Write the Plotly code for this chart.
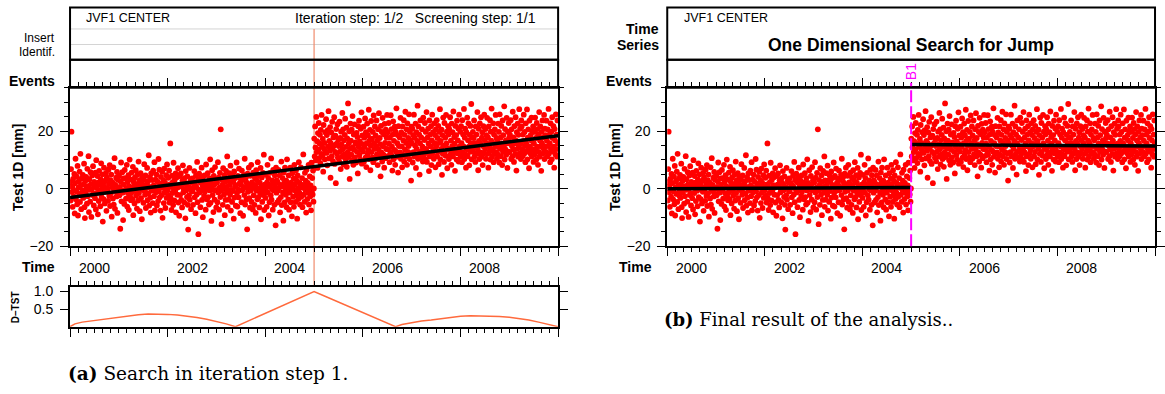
import numpy as np
import plotly.graph_objects as go

W, H = 1165, 394


def px(x):
    return x / W


def py(y):
    return 1 - y / H


# ---------------- data ----------------
STATION = "JVF1 CENTER"
T_START, T_JUMP, T_END = 2000.0, 2005.0, 2010.0

# observations before the jump (mm)
Y_BEFORE = [
    2.3, -4.1, 6.8, 19.8, -1.2, 0.7, -6.3, 3.4, -0.5, -2.8, 5.1, -8.6, 1.9, 10.4, -3.7, -0.9, 4.2, -5.4, 7.9, -9.3, 0.4, 2.6, -1.8, 5.9, -4.6, 12.1, 1.2, -7.1, 3.5, -2.4,
    -0.6, 4.8, -3.2, 1.5, 8.7, -6.4, -10.2, 2.7, -1.3, 4.1, 0.2, -5.2, 6.9, -2.6, 0.9, 11.3, -8.1, 3.3, -0.4, -4.5, 5.7, 1.6, -9.8, -0.2, 4.6, -2.2, 7.8, -1.7, -5.8, 2.4,
    0.8, -3.3, 5.6, -7.2, 9.9, 0.3, -1.5, 4.4, -8.9, 2.1, -4.3, 6.2, 1.4, -0.7, -6.1, 3.2, 8.8, -2.9, -0.1, 5.0, -11.4, 1.8, -3.6, 7.3, 0.6, -5.1, 2.8, -1.1, 5.5, -7.7,
    3.9, -0.8, 0.1, -4.2, 6.6, 1.7, -2.5, 8.2, -6.0, 3.0, -1.6, 4.9, -9.7, 0.5, 2.2, -3.4, 7.4, -5.5, -0.3, 10.6, -7.0, 1.3, -0.9, 3.8, -2.7, 5.8, -8.4, 3.1, 0.0, -1.9,
    4.5, -2.3, 0.6, -13.9, 2.5, 9.1, -4.4, -0.6, 5.7, -1.4, -10.9, 3.6, 1.5, -5.3, 6.5, -0.5, 3.7, -3.5, 0.2, 8.3, -6.2, 2.4, -1.6, 4.7, -7.4, 0.9, 10.1, -2.7, 3.2, -4.0,
    -1.4, 5.6, -0.2, -3.6, 7.6, -9.2, 2.3, 0.8, -5.1, 3.9, -0.8, 6.4, -2.4, 1.6, -6.9, 4.8, 0.4, -4.1, 9.4, -1.5, 2.9, -7.8, 0.7, 5.4, -3.3, 2.0, -10.6, 4.0, -0.4, 1.3,
    -4.9, 3.2, 8.5, -0.8, -2.1, 4.6, -6.7, 1.4, 0.3, 7.2, -4.0, 2.5, -1.6, 11.6, -5.9, 0.6, 3.9, -3.1, -8.3, 5.3, -0.2, -0.7, 3.0, -5.0, 6.3, 1.1, -2.6, 9.2, -7.5, 0.5,
    3.1, -1.2, 4.9, -5.8, 0.2, 2.4, -4.3, 10.3, -0.9, 6.6, -3.0, 1.7, -7.6, 4.1, 0.8, -2.2, 5.9, -10.1, 0.3, 3.0, -5.0, 7.0, -1.4, 2.1, -6.7, 0.6, 4.7, -3.2, 8.4, -0.6,
    0.1, 3.8, -2.4, 6.3, -4.8, 1.5, 15.7, -3.3, 0.7, -7.4, 4.5, -1.5, 2.3, -5.7, 9.0, -0.3, -4.1, 3.1, -0.8, 5.3, -8.2, 1.2, 4.0, -2.1, 0.4, 7.1, -4.8, 0.9, -9.4, 4.4,
    -2.2, 1.4, 5.3, -3.9, 0.8, -6.5, 2.9, 8.1, -1.3, -0.1, -4.7, 3.7, 2.1, -10.3, 6.1, -0.6, 1.5, -2.9, 4.3, -5.6, -14.2, 0.5, -2.3, 7.2, -3.8, 0.2, 2.8, -7.1, 2.2, -1.0,
    3.6, -0.7, -5.6, 2.0, 0.5, 6.1, -3.0, 1.2, -8.5, 4.5, 0.6, -2.0, 9.3, -4.7, 3.0, -15.8, -0.3, 5.2, -1.3, 2.2, -6.4, 3.8, -0.5, 7.3, -3.9, 1.3, -9.9, 2.9, 0.3, -2.5,
    4.6, -1.1, 0.4, -7.3, 8.4, 2.2, -3.7, 0.1, 5.4, -2.9, 1.3, -5.5, 3.7, -0.6, 10.2, -4.9, 2.0, -11.2, 0.7, 6.4, -2.2, -0.4, -8.1, 4.4, 1.4, -3.8, 7.5, -0.6, 2.8, -6.5,
    -0.5, 2.1, -4.7, 9.2, -1.3, 3.8, -7.3, 0.4, 5.5, -2.9, 20.6, -0.7, -12.3, 3.0, 1.2, -5.6, 7.1, 0.0, -2.1, 4.6, -9.2, 2.4, -3.9, 6.2, 0.6, -1.2, 11.2, -6.3, 2.9, -0.5,
    -3.8, 5.4, 1.3, -2.1, 8.0, -7.6, -0.4, 2.9, -4.6, 4.6, -0.8, 2.3, -10.4, 6.0, -3.1, 0.7, 3.7, -5.9, 1.2, 9.1, -1.5, -6.2, 4.4, -0.3, -3.0, 7.0, -0.7, 2.0, -8.5, 3.5,
    1.4, -4.7, 6.3, -0.5, 3.0, -9.4, 0.3, 4.8, -2.2, 10.4, -5.5, 0.6, 3.9, -3.8, 2.1, -14.1, 5.2, -1.1, -0.2, 7.3, -3.3, 1.4, -6.6, 4.5, -0.6, 8.3, -4.6, 2.2, 0.2, -7.2,
    5.6, -2.3, 0.8, -5.6, 3.8, 1.2, -8.4, 6.4, -0.7, 2.9, -3.7, 9.2, 0.1, -2.9, 4.7, -6.5, 2.1, -1.5, 7.2, -10.6, 0.6, 3.9, -4.6, -0.3, 5.5, -2.2, 11.8, -7.4, 1.4, -0.7,
    -3.2, 4.8, 0.3, -6.3, 2.2, 8.3, -1.4, 3.7, -9.3, 0.8, -4.7, 5.5, 1.3, -2.3, 10.5, -3.8, -0.1, 2.9, -7.3, 6.5, -0.6, 2.1, -5.6, 4.7, 0.6, -12.7, 7.3, -1.4, 2.9, -4.8,
    2.2, -0.6, 6.5, -3.9, 0.4, 4.6, -8.2, 1.3, -2.9, 9.4, -5.7, 0.8, 3.7, -1.3, -11.1, 5.6, 2.0, -4.8, 7.3, 0.3, -2.1, 2.8, -6.4, 10.2, -0.5, 1.5, -3.7, 4.6, -7.3, 0.7,
    -1.4, 7.3, -4.7, 2.1, -0.2, -9.6, 5.4, 0.6, -2.8, 3.5, -6.3, 8.3, 1.4, -0.6, -4.6, 6.4, -2.2, 2.8, -10.4, 4.6, 0.2, -3.6, 9.2, -1.3, 2.0, -5.5, 0.5, 7.4, -2.8, 1.3,
    3.7, -6.4, 0.4, 11.9, -2.1, 1.3, -4.6, 5.5, -0.4, 2.8, -8.3, 6.6, 0.6, -3.6, 2.0, -1.4, 8.3, -5.5, -0.3, 4.3, -2.7, 1.1, -7.5, 9.0, -0.6, 3.7, -2.0, 6.3, -4.5, 0.1,
]

# observations after the jump (mm)
Y_AFTER = [
    17.4, 11.2, 21.6, 14.3, 9.8, 24.9, 12.7, 16.5, 7.2, 19.3, 13.6, 22.8, 10.6, 15.8, 18.7, 8.9, 20.4, 12.1, 25.6, 14.6, 11.5, 17.3, 5.9, 22.1, 13.8, 15.9, 10.2, 19.6, 12.9, 24.1,
    12.4, 18.6, 8.1, 20.3, 14.7, 26.9, 10.5, 16.6, 13.2, 21.4, 3.8, 15.7, 19.5, 11.3, 23.2, 13.9, 9.6, 17.8, 14.9, 24.8, 8.6, 12.8, 18.4, 1.9, 20.7, 15.6, 12.2, 22.4, 10.8, 16.9,
    14.8, 9.5, 23.3, 12.9, 17.6, 6.8, 19.8, 15.4, 11.1, 26.3, 13.7, 20.6, 8.4, 16.8, 11.9, 18.7, 24.3, 10.3, 14.5, 21.2, 7.6, 17.5, 12.6, 29.6, 11.0, 15.8, 19.9, 3.4, 13.9, 22.6,
    16.7, 11.8, 20.5, 9.9, 25.2, 14.4, 8.3, 18.8, 13.5, 22.3, 10.9, 16.1, 15.7, 9.1, 19.4, 12.8, 17.9, 5.3, 21.7, 14.6, 23.6, 11.7, 16.4, 10.1, 20.8, 13.6, 26.5, 8.7, 18.5, 15.5,
    12.9, 21.5, 9.3, 17.7, 14.5, 24.4, 10.8, 19.6, 7.5, 15.8, 22.6, 11.9, 18.5, 13.4, 27.4, 10.3, 16.7, 20.4, 6.4, 14.9, 23.5, 12.7, 17.4, 10.9, 19.7, 9.2, 25.4, 15.7, 13.8, 21.6,
    10.4, 18.5, 14.8, 23.7, 11.9, 16.8, 8.2, 20.6, 13.7, 26.2, 11.2, 17.6, 15.5, 4.3, 21.8, 12.6, 19.7, 9.4, 24.6, 14.7, 11.8, 18.9, 7.3, 22.5, 15.9, 10.6, 20.5, 13.8, 17.7, 25.6,
    13.7, 19.6, 11.4, 22.8, 15.6, 9.2, 17.7, 12.8, 25.5, 11.8, 20.7, 14.6, 6.3, 18.8, 23.4, 10.2, 16.6, 13.5, 21.5, 8.3, 19.8, 12.9, 27.9, 11.1, 15.8, 18.6, 5.6, 21.7, 14.8, 12.3,
    17.8, 12.6, 24.6, 10.4, 19.5, 14.7, 7.4, 21.6, 11.8, 16.7, 23.8, 9.4, 18.7, 13.6, 26.7, 11.3, 15.9, 20.6, 8.3, 22.7, 12.8, 17.6, 14.8, 25.8, 10.3, 19.7, 12.3, 16.8, 2.8, 21.5,
    15.7, 20.8, 9.1, 18.6, 12.7, 25.7, 11.2, 17.7, 14.9, 22.6, 7.2, 19.6, 13.8, 16.6, 28.8, 10.4, 21.6, 12.1, 18.8, 4.9, 15.8, 23.7, 12.9, 17.8, 10.7, 20.6, 14.6, 9.4, 24.7, 13.7,
    11.8, 16.9, 22.8, 10.2, 19.7, 13.8, 26.6, 9.3, 17.7, 12.6, 20.8, 15.6, 6.1, 23.7, 11.2, 18.8, 14.7, 21.7, 8.2, 16.8, 25.7, 12.2, 19.6, 13.7, 10.4, 22.7, 15.8, 18.6, 7.4, 20.6,
    14.7, 23.8, 11.3, 17.6, 12.8, 21.8, 8.5, 19.7, 15.9, 27.6, 10.2, 16.6, 13.8, 20.5, 4.8, 18.6, 12.1, 24.7, 14.9, 9.3, 22.8, 12.8, 17.7, 11.4, 25.6, 15.7, 19.8, 7.1, 13.9, 21.7,
    18.8, 10.3, 20.7, 13.6, 24.8, 11.9, 16.7, 8.3, 22.6, 14.8, 19.6, 11.2, 26.8, 12.7, 17.9, 15.6, 6.2, 21.8, 13.7, 18.6, 10.1, 23.6, 12.3, 16.8, 20.9, 9.4, 25.7, 14.7, 12.9, 19.8,
    11.1, 21.7, 15.8, 9.2, 23.8, 12.6, 18.8, 14.7, 27.7, 10.3, 17.7, 20.8, 11.8, 7.3, 19.6, 13.7, 24.7, 11.3, 16.8, 22.7, 14.6, 8.1, 18.7, 12.8, 21.8, 15.8, 29.4, 10.2, 17.8, 13.6,
    19.7, 12.8, 17.6, 23.7, 11.2, 15.8, 9.3, 21.6, 14.7, 18.8, 12.2, 26.6, 13.9, 6.4, 20.8, 16.6, 10.3, 22.7, 15.7, 12.6, 24.8, 11.1, 17.7, 19.6, 8.2, 14.8, 21.7, 12.3, 25.7, 16.8,
    13.8, 20.7, 10.4, 18.6, 15.7, 24.6, 12.1, 17.8, 7.3, 21.6, 14.7, 12.9, 23.8, 10.1, 19.8, 16.7, 27.8, 11.2, 15.9, 13.7, 22.7, 9.2, 18.8, 12.2, 20.6, 14.8, 25.6, 12.7, 17.6, 10.4,
    16.8, 11.9, 22.6, 14.6, 19.7, 9.1, 25.8, 13.8, 17.7, 11.3, 21.8, 15.6, 8.2, 23.7, 12.8, 18.6, 14.7, 28.6, 10.1, 20.7, 13.6, 16.8, 11.8, 24.6, 15.7, 7.2, 19.8, 12.9, 22.8, 17.6,
    12.7, 18.8, 15.7, 23.8, 10.3, 20.6, 14.8, 11.2, 26.7, 13.7, 17.8, 9.3, 21.7, 15.8, 12.1, 24.8, 16.7, 6.3, 19.6, 13.8, 22.6, 11.1, 18.7, 14.9, 27.6, 12.2, 20.8, 15.6, 10.3, 23.7,
    21.6, 13.7, 11.3, 18.8, 16.6, 25.7, 12.1, 19.7, 14.8, 9.2, 22.7, 15.8, 12.9, 27.5, 10.2, 17.7, 20.6, 13.8, 7.1, 23.6, 14.7, 12.3, 18.6, 16.8, 24.7, 11.2, 19.8, 13.7, 21.6, 9.3,
    15.8, 19.7, 11.9, 24.7, 13.7, 17.6, 10.1, 22.8, 14.6, 20.7, 8.3, 18.8, 12.8, 26.6, 11.1, 16.7, 21.6, 14.7, 6.2, 19.7, 15.8, 23.7, 12.2, 17.8, 13.9, 25.6, 10.3, 20.8, 14.7, 18.6,
    12.8, 23.6, 16.7, 11.2, 20.6, 14.8, 27.7, 12.1, 18.8, 15.7, 9.2, 22.7, 13.6, 19.8, 10.2, 24.8, 17.6, 12.9, 21.7, 14.6, 7.3, 20.7, 16.8, 11.9, 25.8, 13.7, 18.8, 11.1, 23.7, 15.6,
]

# fitted models
FIT_TREND_T = [2000.0, 2010.0]
FIT_TREND_Y = [-3.1, 18.4]
FIT_STEP_BEFORE_Y = [0.0, 0.4]
FIT_STEP_AFTER_Y = [15.3, 14.8]

# detection test statistic
DTST_T = [2000.0, 2000.1, 2000.25, 2000.4, 2000.6, 2000.8, 2001.0, 2001.2, 2001.4, 2001.6, 2001.8, 2002.0,
          2002.2, 2002.4, 2002.6, 2002.8, 2003.0, 2003.2, 2003.39, 2003.6, 2003.8, 2004.0, 2004.2, 2004.4,
          2004.6, 2004.8, 2005.0, 2005.2, 2005.4, 2005.6, 2005.8, 2006.0, 2006.2, 2006.4, 2006.67, 2006.8,
          2007.0, 2007.2, 2007.4, 2007.6, 2007.8, 2008.0, 2008.2, 2008.4, 2008.6, 2008.8, 2009.0, 2009.2,
          2009.4, 2009.6, 2009.8, 2010.0]
DTST_V = [0.0, 0.08, 0.13, 0.16, 0.19, 0.23, 0.27, 0.31, 0.34, 0.36, 0.36, 0.35,
          0.33, 0.3, 0.26, 0.21, 0.15, 0.08, 0.0, 0.13, 0.25, 0.38, 0.5, 0.63,
          0.75, 0.88, 1.0, 0.88, 0.76, 0.64, 0.52, 0.4, 0.28, 0.16, 0.0, 0.06,
          0.12, 0.16, 0.19, 0.23, 0.27, 0.3, 0.31, 0.31, 0.3, 0.29, 0.27, 0.24,
          0.19, 0.13, 0.07, 0.0]

MAJOR_T = [2000, 2002, 2004, 2006, 2008, 2010]
YEAR_LABELS = ["2000", "2002", "2004", "2006", "2008"]
YEAR_LABEL_T = [2000.5, 2002.5, 2004.5, 2006.5, 2008.5]

# ---------------- build ----------------
t_before = T_START + (np.arange(len(Y_BEFORE)) + 0.5) * (T_JUMP - T_START) / len(Y_BEFORE)
t_after = T_JUMP + (np.arange(len(Y_AFTER)) + 0.5) * (T_END - T_JUMP) / len(Y_AFTER)
t_all = np.concatenate([t_before, t_after])
y_all = np.array(Y_BEFORE + Y_AFTER, dtype=float)

FONT = "Liberation Sans"
RED = "#FF0000"

fig = go.Figure()
mk = dict(color=RED, size=5.8, line=dict(width=0))
fig.add_trace(go.Scatter(x=t_all, y=y_all, mode="markers", marker=mk, xaxis="x", yaxis="y", showlegend=False))
fig.add_trace(go.Scatter(x=FIT_TREND_T, y=FIT_TREND_Y, mode="lines", line=dict(color="black", width=3.5),
                         xaxis="x", yaxis="y", showlegend=False))
fig.add_trace(go.Scatter(x=DTST_T, y=DTST_V, mode="lines", line=dict(color="#FF6A3D", width=1.5),
                         xaxis="x2", yaxis="y2", showlegend=False))
fig.add_trace(go.Scatter(x=t_all, y=y_all, mode="markers", marker=mk, xaxis="x3", yaxis="y3", showlegend=False))
fig.add_trace(go.Scatter(x=[T_START, T_JUMP, None, T_JUMP, T_END],
                         y=[FIT_STEP_BEFORE_Y[0], FIT_STEP_BEFORE_Y[1], None, FIT_STEP_AFTER_Y[0], FIT_STEP_AFTER_Y[1]],
                         mode="lines", line=dict(color="black", width=3.5), xaxis="x3", yaxis="y3",
                         showlegend=False))

LX = [px(70.4), px(561)]
RX = [px(670.7), px(1161)]
MAIN_Y = [py(250.3), py(87.3)]
DTST_Y = [py(333), py(291.7)]

xcommon = dict(range=[T_START, T_END], tickmode="array", tickvals=MAJOR_T, ticks="outside", ticklen=8,
               tickwidth=1, tickcolor="black",
               minor=dict(ticks="outside", ticklen=4, dtick=1 / 6, tick0=2000, tickcolor="black", tickwidth=1),
               showticklabels=False, showline=True, linecolor="black", linewidth=2, mirror="ticks",
               showgrid=False, zeroline=False)
ymain = dict(range=[-20, 35], tickmode="array", tickvals=[-20, 0, 20], ticks="outside", ticklen=8,
             tickwidth=1, tickcolor="black",
             minor=dict(ticks="outside", ticklen=4, dtick=5, tick0=0, tickcolor="black", tickwidth=1),
             tickfont=dict(family=FONT, size=14, color="black"), showline=True, linecolor="black",
             linewidth=2, mirror="ticks", showgrid=False, zeroline=True, zerolinecolor="#CFCFCF",
             zerolinewidth=1, ticklabelstandoff=4)

fig.update_layout(
    width=W, height=H, autosize=False, margin=dict(l=0, r=0, t=0, b=0),
    paper_bgcolor="white", plot_bgcolor="rgba(0,0,0,0)",
    xaxis=dict(domain=LX, anchor="y", **xcommon),
    yaxis=dict(domain=MAIN_Y, anchor="x", **ymain),
    xaxis2=dict(domain=LX, anchor="y2", **xcommon),
    yaxis2=dict(domain=DTST_Y, anchor="x2", range=[0, 1.14], tickmode="array", tickvals=[0.5, 1.0],
                ticktext=["0.5", "1.0"], ticks="outside", ticklen=8, tickwidth=1, tickcolor="black",
                tickfont=dict(family=FONT, size=14, color="black"), showline=True, linecolor="black",
                linewidth=2, mirror="ticks", showgrid=False, zeroline=False, ticklabelstandoff=4),
    xaxis3=dict(domain=RX, anchor="y3", **xcommon),
    yaxis3=dict(domain=MAIN_Y, anchor="x3", **ymain),
)

shapes = []
box = dict(type="rect", xref="paper", yref="paper", line=dict(color="black", width=2), fillcolor="rgba(0,0,0,0)")
for xs in (LX, RX):
    shapes.append(dict(box, x0=xs[0], x1=xs[1], y0=py(58.5), y1=py(4.7)))
    shapes.append(dict(box, x0=xs[0], x1=xs[1], y0=py(87.3), y1=py(58.5)))
for yy in (26.7, 42.7):
    shapes.append(dict(type="line", xref="paper", yref="paper", x0=LX[0], x1=LX[1], y0=py(yy), y1=py(yy),
                       line=dict(color="#D4D4D4", width=1), layer="below"))
# detected epoch in the search step
shapes.append(dict(type="line", xref="x", yref="paper", x0=T_JUMP, x1=T_JUMP, y0=py(291.7), y1=py(26.7),
                   line=dict(color="#F08A6C", width=1.2), layer="below"))
# final jump marker
shapes.append(dict(type="line", xref="x3", yref="paper", x0=T_JUMP, x1=T_JUMP, y0=py(250.3), y1=py(82),
                   line=dict(color="#FF00FF", width=2, dash="12px,4px"), layer="above"))
fig.update_layout(shapes=shapes)

ann = []


def txt(text, x, y, size=12, bold=False, xanchor="center", family=FONT, angle=0, xref="paper", color="black"):
    ann.append(dict(text=f"<b>{text}</b>" if bold else text, x=x, y=y, xref=xref, yref="paper",
                    xanchor=xanchor, yanchor="middle", showarrow=False, textangle=angle,
                    font=dict(family=family, size=size, color=color)))


# left panel
txt(STATION, px(84), py(15.7), 12.5, xanchor="left")
txt("Iteration step: 1/2\u00a0\u00a0\u00a0Screening step: 1/1", px(541), py(15.7), 14, xanchor="right")
txt("Insert", px(57.5), py(35.5), 12, xanchor="right")
txt("Identif.", px(57.5), py(50), 12, xanchor="right")
txt("Events", px(57.5), py(80), 14, bold=True, xanchor="right")
txt("Test 1D [mm]", px(18), py(169), 14, bold=True, angle=-90)
txt("Time", px(57.5), py(272), 14, bold=True, xanchor="right")
txt("D\u2013TST", px(15), py(313), 10, bold=True, angle=-90)
for lab, t in zip(YEAR_LABELS, YEAR_LABEL_T):
    txt(lab, t, py(273), 14, xref="x")
txt("<b>(a)</b> Search in iteration step 1.", px(66), py(381), 18.5, xanchor="left", family="DejaVu Serif")

# right panel
txt(STATION, px(686), py(15.7), 12.5, xanchor="left")
txt("One Dimensional Search for Jump", px(916), py(43.5), 17.5, bold=True)
txt("Time", px(664), py(27), 14, bold=True, xanchor="right")
txt("Series", px(664), py(43), 14, bold=True, xanchor="right")
txt("Events", px(657.5), py(80), 14, bold=True, xanchor="right")
txt("Test 1D [mm]", px(618), py(169), 14, bold=True, angle=-90)
txt("Time", px(657.5), py(272), 14, bold=True, xanchor="right")
for lab, t in zip(YEAR_LABELS, YEAR_LABEL_T):
    txt(lab, t, py(273), 14, xref="x3")
txt("B1", T_JUMP, py(71), 14, xref="x3", angle=-90, color="#FF00FF")
txt("<b>(b)</b> Final result of the analysis..", px(665), py(326), 18, xanchor="left", family="DejaVu Serif")

fig.update_layout(annotations=ann)
fig.write_html("out.html")
